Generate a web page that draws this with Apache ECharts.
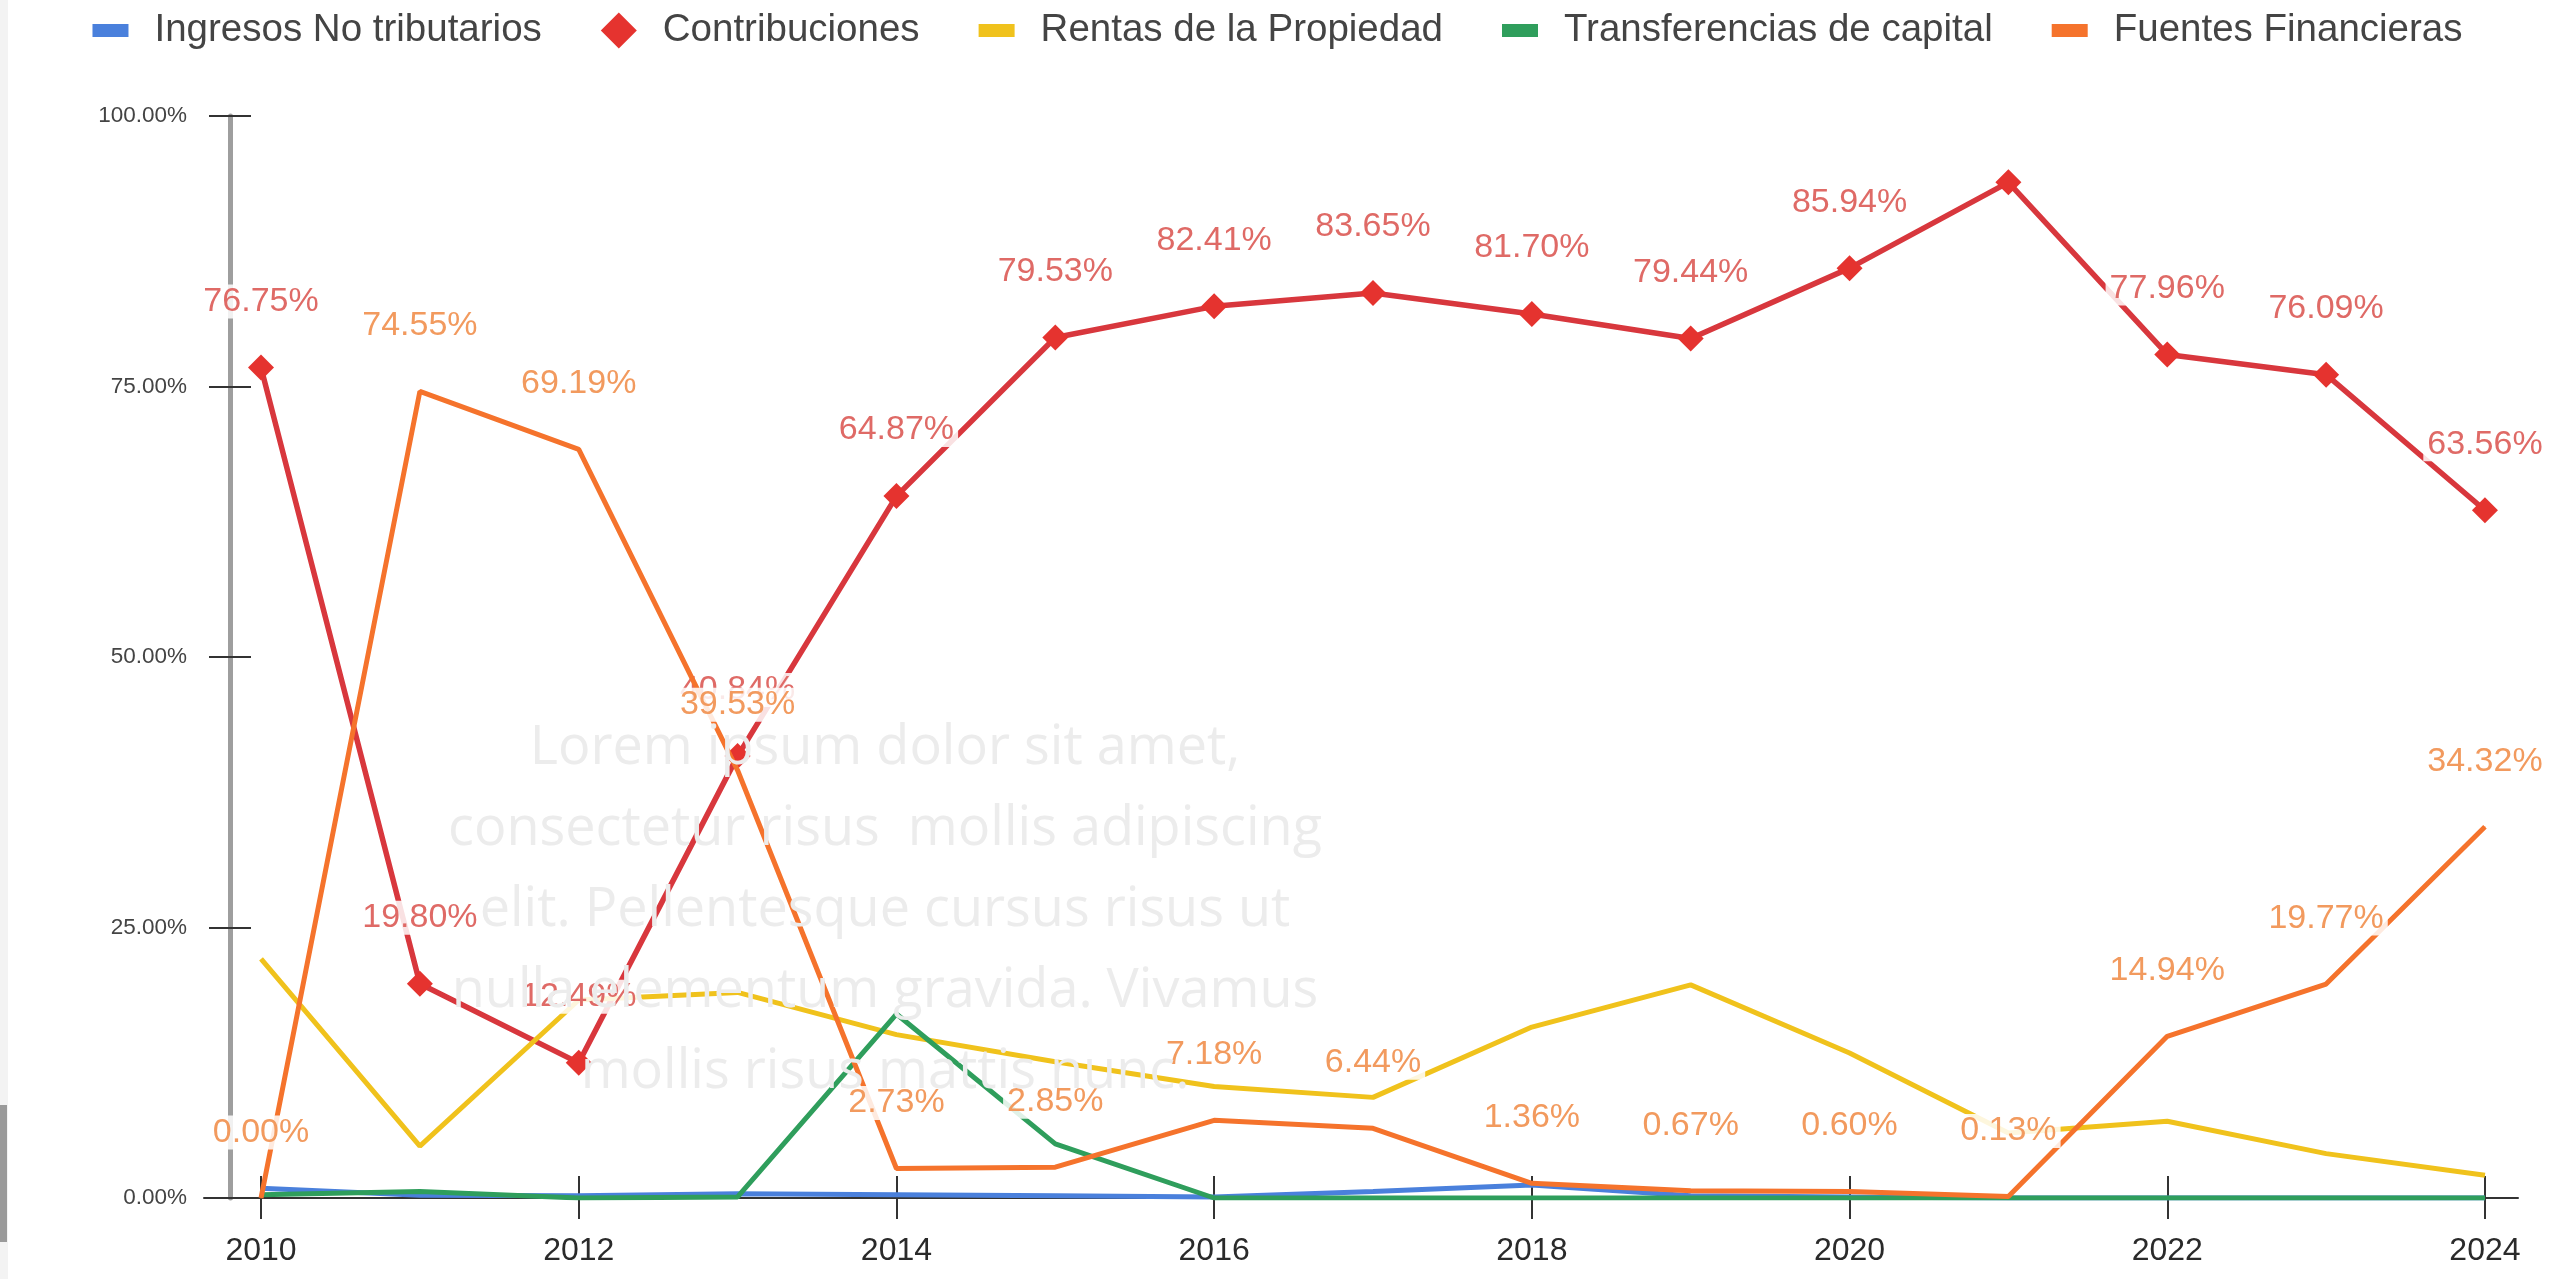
<!DOCTYPE html>
<html>
<head>
<meta charset="utf-8">
<script src="https://cdn.jsdelivr.net/npm/echarts@6/dist/echarts.min.js"></script>
<style>
html,body{margin:0;padding:0;background:#fff;}
#c{width:2555px;height:1279px;}
</style>
</head>
<body>
<div id="c"></div>
<script>
const years = [2010,2011,2012,2013,2014,2015,2016,2017,2018,2019,2020,2021,2022,2023,2024];
const tickYears = [2010,2012,2014,2016,2018,2020,2022,2024];
const ingresos = [0.9,0.25,0.2,0.4,0.3,0.2,0.1,0.6,1.2,0.2,0.1,0,0,0,0];
const contribuciones = [76.75,19.80,12.49,40.84,64.87,79.53,82.41,83.65,81.70,79.44,85.94,93.87,77.96,76.09,63.56];
const rentas = [22.1,4.8,18.3,19.0,15.1,12.6,10.3,9.3,15.8,19.7,13.4,6.0,7.1,4.1,2.1];
const transferencias = [0.3,0.6,0,0.1,17.0,5.0,0,0,0,0,0,0,0,0,0];
const fuentes = [0.00,74.55,69.19,39.53,2.73,2.85,7.18,6.44,1.36,0.67,0.60,0.13,14.94,19.77,34.32];
const seriesNames = ['Ingresos No tributarios','Contribuciones','Rentas de la Propiedad','Transferencias de capital','Fuentes Financieras'];
const unlabeledContribYears = [2021];
const watermark = ['Lorem ipsum dolor sit amet,','consectetur risus  mollis adipiscing','elit. Pellentesque cursus risus ut','nulla elementum gravida. Vivamus','mollis risus mattis nunc.'];

const pairs = arr => years.map((y,i)=>[y,arr[i]]);
const pct = v => v.toFixed(2) + '%';

const chart = echarts.init(document.getElementById('c'));
const xMin = 2009.641, xMax = 2024.208;
const FONT = '"Liberation Sans", Arial, sans-serif';

const rectIcon = 'path://M0,0h36v13h-36z';
const diamondIcon = 'path://M18,0L36,18L18,36L0,18Z';

chart.setOption({
  animation:false,
  backgroundColor:'#fff',
  textStyle:{fontFamily:FONT},
  legend:{
    top:6, left:'center', itemGap:59, itemWidth:36, itemHeight:37,
    symbolKeepAspect:true,
    textStyle:{fontSize:38.5, color:'#444', padding:[0,0,0,21], fontFamily:FONT},
    data:[
      {name:seriesNames[0], icon:rectIcon},
      {name:seriesNames[1], icon:diamondIcon},
      {name:seriesNames[2], icon:rectIcon},
      {name:seriesNames[3], icon:rectIcon},
      {name:seriesNames[4], icon:rectIcon}
    ]
  },
  grid:{left:204, right:37, top:116, bottom:81, containLabel:false},
  xAxis:[
    {type:'value', min:xMin, max:xMax, position:'bottom',
     axisLine:{show:true, lineStyle:{color:'#333', width:2}},
     axisTick:{show:true, customValues:tickYears, length:21, lineStyle:{color:'#333', width:2}},
     axisLabel:{customValues:tickYears, fontSize:32, color:'#2a2a2a', margin:37, formatter:v=>String(Math.round(v))},
     splitLine:{show:false}},
    {type:'value', min:xMin, max:xMax, position:'bottom',
     axisLine:{show:false},
     axisTick:{show:true, inside:true, customValues:tickYears, length:22, lineStyle:{color:'#333', width:2}},
     axisLabel:{show:false}, splitLine:{show:false}}
  ],
  yAxis:[
    {type:'value', min:0, max:100, interval:25, position:'left', offset:-26,
     axisLine:{show:true, lineStyle:{color:'#9e9e9e', width:5}},
     axisTick:{show:true, length:21, lineStyle:{color:'#333', width:2}},
     axisLabel:{fontSize:22.5, color:'#444', margin:43, formatter:v=>pct(v)},
     splitLine:{show:false}},
    {type:'value', min:0, max:100, interval:25, position:'left', offset:-26,
     axisLine:{show:false},
     axisTick:{show:true, inside:true, length:21, lineStyle:{color:'#333', width:2}},
     axisLabel:{show:false}, splitLine:{show:false}}
  ],
  series:[
    {name:seriesNames[0], type:'line', data:pairs(ingresos), showSymbol:false, symbol:'none',
     lineStyle:{color:'#4a80dc', width:5}, itemStyle:{color:'#4a80dc'}},
    {name:seriesNames[1], type:'line', symbol:'diamond', symbolSize:26, z:3,
     data:years.map((y,i)=>unlabeledContribYears.includes(y) ? {value:[y,contribuciones[i]], label:{show:false}} : [y,contribuciones[i]]),
     lineStyle:{color:'#d8373d', width:5.5}, itemStyle:{color:'#e5332f'},
     label:{show:true, position:'top', distance:36, fontSize:34, color:'#df6a66', fontFamily:FONT,
            backgroundColor:'rgba(255,255,255,0.85)', padding:[0,4],
            formatter:p=>pct(p.value[1])}},
    {name:seriesNames[2], type:'line', data:pairs(rentas), showSymbol:false, symbol:'none',
     lineStyle:{color:'#f0c21c', width:5}, itemStyle:{color:'#f0c21c'}},
    {name:seriesNames[3], type:'line', data:pairs(transferencias), showSymbol:false, symbol:'none',
     lineStyle:{color:'#2f9e5c', width:5}, itemStyle:{color:'#2f9e5c'}},
    {name:seriesNames[4], type:'line', data:pairs(fuentes), symbol:'circle', symbolSize:1, z:4,
     lineStyle:{color:'#f5732c', width:5}, itemStyle:{color:'#f5732c'},
     label:{show:true, position:'top', distance:48, fontSize:34, color:'#f29a5e', fontFamily:FONT,
            backgroundColor:'rgba(255,255,255,0.85)', padding:[0,4],
            formatter:p=>pct(p.value[1])}}
  ],
  graphic:[
    {type:'rect', z:0, shape:{x:0, y:0, width:8, height:1279}, style:{fill:'#f3f3f3'}},
    {type:'rect', z:0, shape:{x:0, y:1105, width:7, height:137}, style:{fill:'#9a9a9a'}},
    {type:'text', z:100, x:885, y:708,
     style:{text:watermark.join('\n'), font:'54px "Open Sans"', fill:'#ececec', textAlign:'center', textVerticalAlign:'top', lineHeight:81}}
  ]
});
</script>
</body>
</html>
